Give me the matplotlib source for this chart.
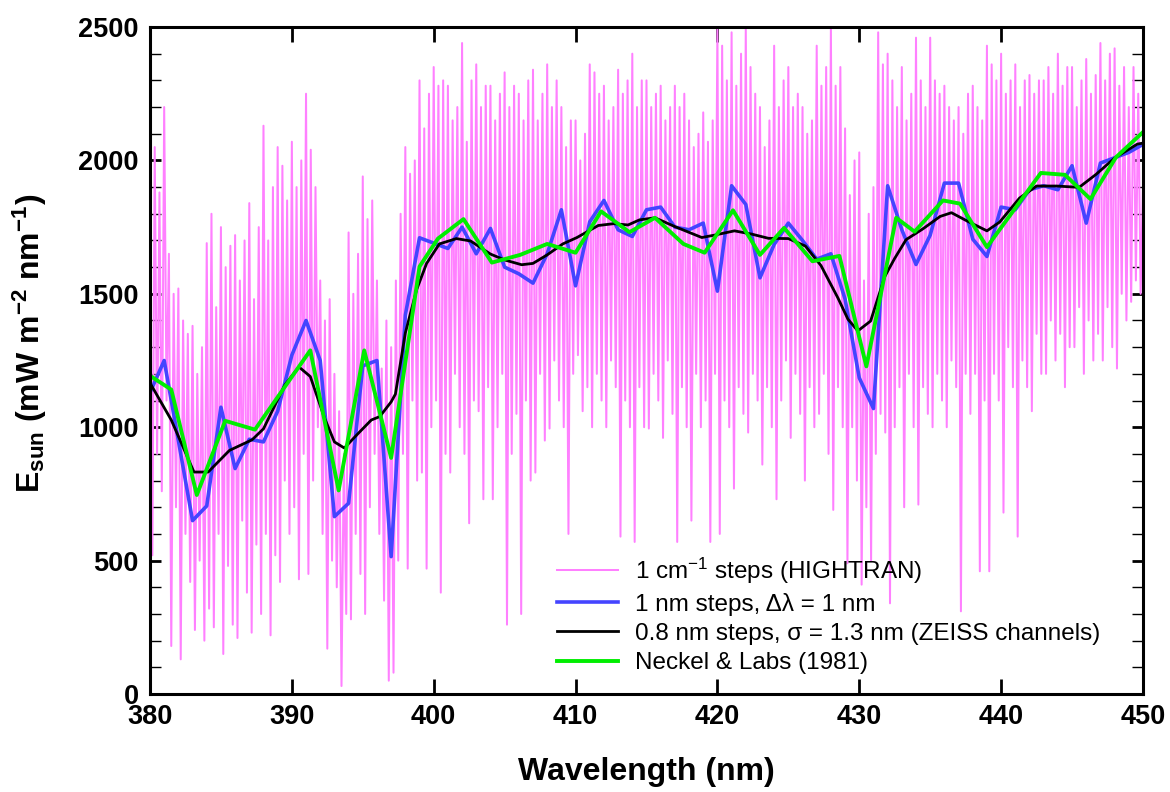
import numpy as np
import matplotlib
matplotlib.use('Agg')
import matplotlib.pyplot as plt
from matplotlib.ticker import MultipleLocator

plt.rcParams['font.family'] = ['Liberation Sans', 'DejaVu Sans']
plt.rcParams['mathtext.fontset'] = 'custom'
plt.rcParams['mathtext.rm'] = 'Liberation Sans'
plt.rcParams['mathtext.bf'] = 'Liberation Sans:bold'
plt.rcParams['mathtext.it'] = 'Liberation Sans:italic'

# high resolution spectrum, 1 cm-1 steps (HIGHTRAN), 6 samples per nm
hr_start, hr_per_nm = 380.0, 6
hr_vals = [
    1850, 520, 2050, 900, 1880, 760,     # 380
    2200, 1100, 1650, 180, 1500, 700,    # 381
    1520, 130, 1400, 600, 1350, 420,     # 382
    1380, 240, 1200, 500, 1300, 200,     # 383
    1690, 320, 1800, 250, 1450, 600,     # 384
    1750, 150, 1600, 480, 1680, 260,     # 385
    1720, 210, 1550, 650, 1700, 380,     # 386
    1840, 230, 1480, 560, 1750, 300,     # 387
    2130, 600, 1700, 220, 1900, 520,     # 388
    2050, 420, 1980, 800, 1850, 600,     # 389
    2070, 700, 1900, 430, 2000, 900,     # 390
    2250, 450, 2040, 800, 1900, 1000,    # 391
    1550, 600, 1400, 170, 1480, 500,     # 392
    1200, 400, 1060, 30, 900, 300,       # 393
    1730, 280, 1500, 600, 1650, 450,     # 394
    1940, 300, 1780, 700, 1850, 900,     # 395
    1550, 600, 1220, 350, 1400, 50,      # 396
    1300, 80, 1550, 500, 1800, 900,      # 397
    2050, 470, 1950, 1100, 2000, 800,    # 398
    2300, 830, 2120, 470, 2250, 1000,    # 399
    2350, 1100, 2280, 380, 2300, 900,    # 400
    2280, 830, 2150, 1200, 2200, 1000,   # 401
    2440, 900, 2070, 640, 2300, 1100,    # 402
    2360, 1060, 2200, 730, 2280, 1150,   # 403
    2280, 730, 2150, 1000, 2250, 1200,   # 404
    2330, 260, 2200, 900, 2280, 1050,    # 405
    2250, 300, 2150, 1100, 2300, 800,    # 406
    2340, 830, 2150, 1200, 2250, 950,    # 407
    2360, 995, 2200, 1250, 2300, 1100,   # 408
    2200, 1000, 2050, 600, 2150, 1200,   # 409
    2150, 1270, 2000, 1060, 2100, 1150,  # 410
    2360, 1000, 2330, 1200, 2250, 1100,  # 411
    2280, 1000, 2150, 1250, 2200, 1150,  # 412
    2340, 590, 2250, 1100, 2300, 1000,   # 413
    2400, 570, 2200, 1150, 2300, 1000,   # 414
    2300, 995, 2200, 1200, 2250, 1100,   # 415
    2280, 960, 2150, 1250, 2200, 1050,   # 416
    2280, 570, 2200, 1150, 2250, 1000,   # 417
    2150, 650, 2050, 1200, 2100, 1000,   # 418
    2180, 1100, 2070, 570, 2150, 1200,   # 419
    2500, 600, 2430, 1100, 2300, 1000,   # 420
    2480, 770, 2280, 1150, 2400, 1050,   # 421
    2500, 980, 2350, 1200, 2250, 1100,   # 422
    2200, 860, 2050, 1150, 2150, 1000,   # 423
    2430, 730, 2200, 1100, 2300, 1250,   # 424
    2350, 960, 2200, 1200, 2250, 1050,   # 425
    2200, 800, 2100, 1150, 2150, 1000,   # 426
    2430, 1050, 2280, 1200, 2350, 900,   # 427
    2500, 690, 2280, 1150, 2350, 1000,   # 428
    2120, 490, 1870, 1000, 2000, 800,    # 429
    2030, 410, 1550, 700, 1800, 500,     # 430
    1900, 900, 2480, 1050, 2360, 980,    # 431
    2400, 340, 2300, 1000, 2200, 1150,   # 432
    2350, 700, 2150, 1200, 2250, 1000,   # 433
    2460, 710, 2300, 1150, 2200, 1050,   # 434
    2460, 1000, 2300, 1200, 2250, 1100,  # 435
    2280, 1000, 2200, 1250, 2150, 1150,  # 436
    2200, 310, 2100, 1200, 2250, 1050,   # 437
    2280, 1200, 2200, 460, 2150, 1100,   # 438
    2430, 460, 2360, 1200, 2300, 1100,   # 439
    2400, 680, 2250, 1300, 2300, 1150,   # 440
    2360, 590, 2200, 1250, 2300, 1150,   # 441
    2320, 1060, 2250, 1350, 2300, 1200,  # 442
    2300, 1200, 2350, 1400, 2250, 1250,  # 443
    2400, 1350, 2280, 1150, 2350, 1300,  # 444
    2350, 1300, 2200, 1450, 2300, 1200,  # 445
    2380, 1400, 2250, 1250, 2320, 1350,  # 446
    2440, 1250, 2300, 1450, 2400, 1300,  # 447
    2420, 1220, 2280, 1500, 2350, 1400,  # 448
    2200, 1470, 2350, 1550, 2250, 1500,  # 449
    1900,                                # 450
]

# 1 nm steps
nm1_wl = list(range(380, 451))
nm1_vals = [1130, 1250, 950, 650, 705, 1075, 845, 955, 945, 1060,
            1270, 1400, 1250, 665, 715, 1230, 1250, 515, 1420, 1710,
            1690, 1670, 1750, 1650, 1745, 1600, 1575, 1540, 1650, 1815,
            1530, 1770, 1850, 1740, 1715, 1815, 1825, 1750, 1740, 1765,
            1510, 1905, 1835, 1560, 1685, 1765, 1700, 1630, 1650, 1480,
            1185, 1070, 1905, 1740, 1610, 1720, 1915, 1915, 1705, 1640,
            1825, 1815, 1890, 1905, 1890, 1980, 1765, 1990, 2010, 2030,
            2060]

# ZEISS channels (smoothed)
zeiss_wl = [380, 381.5, 383.1, 384.1, 385.6, 387.2, 388.0, 389.5, 390.5, 391.3,
            392.3, 393.0, 393.7, 394.7, 395.6, 396.2, 397.0, 397.3, 398.0, 398.8,
            399.5, 400.4, 401.6, 402.6, 404.0, 405.0, 406.2, 407.0, 408.0, 409.1,
            410.1, 411.6, 412.7, 413.7, 414.5, 415.6, 417.0, 418.9, 419.8, 421.2,
            422.4, 423.6, 425.0, 426.2, 427.3, 428.5, 429.2, 429.9, 430.8, 431.8,
            432.5, 433.3, 434.5, 435.7, 436.5, 437.6, 439.0, 439.9, 441.3, 442.5,
            443.9, 445.5, 446.7, 448.0, 449.6, 450.0]
zeiss_vals = [1166, 1027, 832, 832, 913, 953, 994, 1158, 1226, 1190,
              1035, 945, 922, 978, 1027, 1040, 1095, 1124, 1353, 1516,
              1614, 1687, 1707, 1698, 1649, 1627, 1609, 1614, 1646, 1687,
              1711, 1756, 1763, 1758, 1777, 1785, 1752, 1711, 1720, 1736,
              1724, 1708, 1707, 1679, 1606, 1484, 1405, 1361, 1398, 1565,
              1633, 1703, 1744, 1790, 1804, 1773, 1736, 1769, 1859, 1904,
              1904, 1899, 1948, 2009, 2061, 2065]

# Neckel & Labs (1981)
nl_wl = [380, 381.5, 383.3, 385.3, 387.4, 391.3, 393.3, 395.1, 397.0, 399.0,
         400.3, 402.1, 404.1, 406.1, 408.0, 410.0, 411.8, 413.8, 415.6, 417.6,
         419.1, 421.1, 423.0, 424.7, 426.7, 428.6, 430.5, 432.6, 433.9, 435.9,
         437.1, 439.0, 442.8, 444.5, 446.3, 448.1, 450.0]
nl_vals = [1193, 1141, 746, 1024, 991, 1288, 763, 1288, 885, 1602,
           1707, 1780, 1617, 1646, 1687, 1654, 1809, 1731, 1785, 1687,
           1654, 1813, 1646, 1747, 1622, 1642, 1228, 1785, 1733, 1850,
           1838, 1675, 1953, 1946, 1855, 2012, 2106]

labels = ['1 cm$^{-1}$ steps (HIGHTRAN)',
          '1 nm steps, \u0394\u03bb = 1 nm',
          '0.8 nm steps, \u03c3 = 1.3 nm (ZEISS channels)',
          'Neckel & Labs (1981)']

hr_wl = hr_start + np.arange(len(hr_vals)) / hr_per_nm

fig = plt.figure(figsize=(11.7, 7.92), dpi=100)
ax = fig.add_axes([0.1282, 0.1237, 0.8487, 0.8422])

ax.plot(hr_wl, hr_vals, color='#ff80ff', lw=1.45, label=labels[0])
ax.plot(nm1_wl, nm1_vals, color='#4444ff', lw=2.6, label=labels[1])
ax.plot(zeiss_wl, zeiss_vals, color='black', lw=2.0, label=labels[2])
ax.plot(nl_wl, nl_vals, color='#00ee00', lw=2.8, label=labels[3])

ax.set_xlim(380, 450)
ax.set_ylim(0, 2500)
ax.xaxis.set_major_locator(MultipleLocator(10))
ax.yaxis.set_major_locator(MultipleLocator(500))
ax.yaxis.set_minor_locator(MultipleLocator(100))

for s in ax.spines.values():
    s.set_linewidth(2.2)
ax.tick_params(axis='both', which='both', direction='in', top=True, right=True)
ax.tick_params(axis='x', which='major', length=11, width=2.0, pad=7)
ax.tick_params(axis='y', which='major', length=8, width=2.0, pad=8)
ax.tick_params(axis='y', which='minor', length=8, width=1.0)
for lab in ax.get_xticklabels() + ax.get_yticklabels():
    lab.set_fontsize(19.5)
    lab.set_fontweight('bold')

ax.set_xlabel('Wavelength (nm)', fontsize=23, fontweight='bold')
ax.xaxis.set_label_coords(0.5, -0.094)
ax.set_ylabel(r'$\mathbf{E_{sun}}$ (mW m$^{\mathbf{-2}}$ nm$^{\mathbf{-1}}$)',
              fontsize=23, fontweight='bold')
ax.yaxis.set_label_coords(-0.102, 0.525)

leg = ax.legend(loc='upper left', bbox_to_anchor=(0.4577, 0.326),
                bbox_transform=fig.transFigure, frameon=False, fontsize=17.5,
                handlelength=2.5, handletextpad=0.7, labelspacing=0.29,
                borderpad=0.4)

fig.savefig('out.png', dpi=100)
